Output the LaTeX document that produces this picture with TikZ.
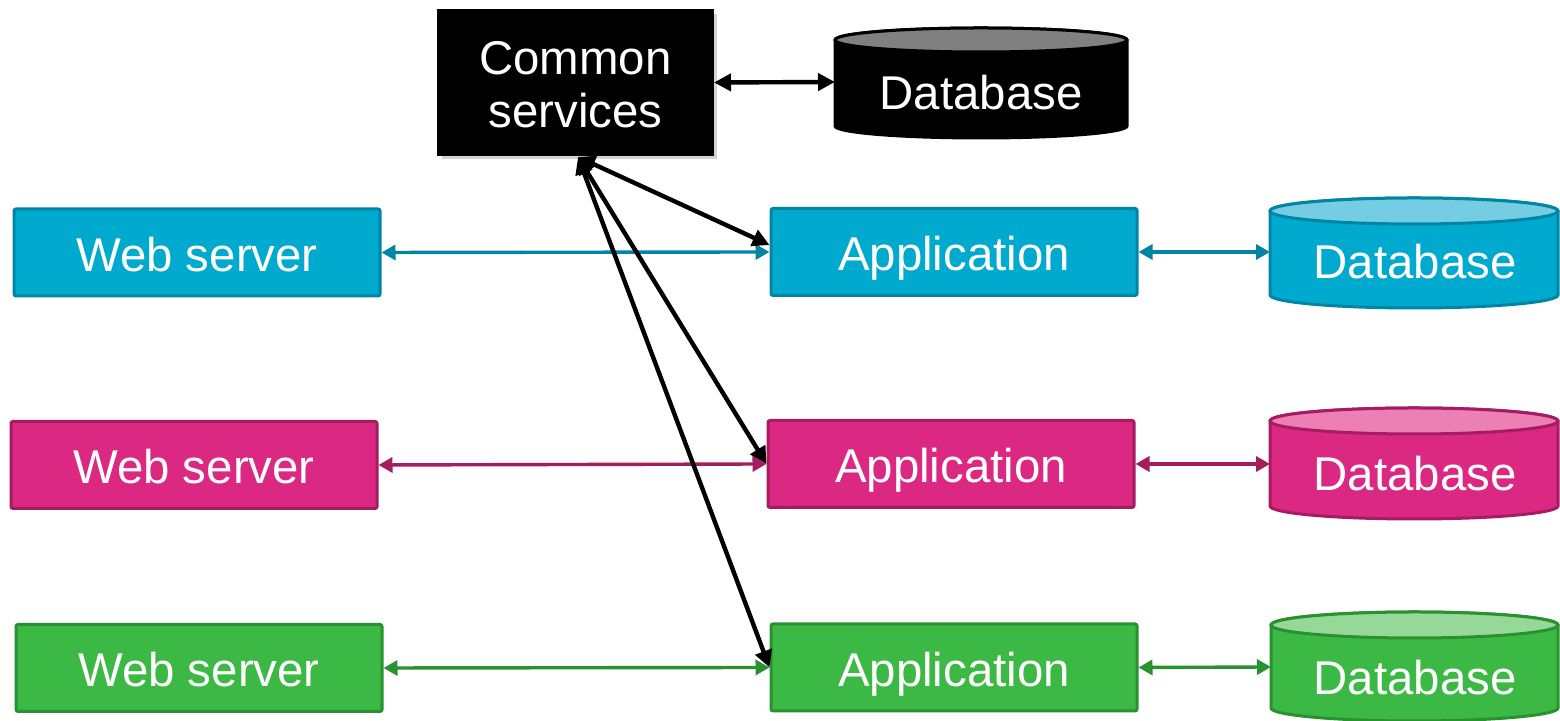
\documentclass[tikz,border=0pt]{standalone}
\usepackage{fontspec}
\setmainfont{Liberation Sans}
\usetikzlibrary{arrows.meta,shadows,calc}
\definecolor{cyanF}{HTML}{00A9CE}
\definecolor{cyanD}{HTML}{0085A5}
\definecolor{cyanT}{HTML}{74CDE3}
\definecolor{magF}{HTML}{DB2882}
\definecolor{magD}{HTML}{A61C60}
\definecolor{magT}{HTML}{EC80B5}
\definecolor{grnF}{HTML}{3CB944}
\definecolor{grnD}{HTML}{2A9130}
\definecolor{grnT}{HTML}{96D898}
\definecolor{dbGray}{HTML}{808080}
\newcommand\myfont{\fontsize{23.7}{27}\selectfont}
% #1 L, #2 R, #3 top ellipse Y, #4 bottom ellipse Y, #5 x radius, #6 y radius, #7 fill, #8 border, #9 top fill
\newcommand\dbcyl[9]{%
  \filldraw[fill=#7, draw=#8, line width=1.5pt] (#1,#3) -- (#1,#4)
     arc[start angle=180, end angle=360, x radius=#5, y radius=#6] -- (#2,#3)
     arc[start angle=0, end angle=180, x radius=#5, y radius=#6] -- cycle;
  \filldraw[fill=#9, draw=#8, line width=1.5pt] ({(#1+#2)/2},#3) ellipse[x radius=#5, y radius=#6];
}
\tikzset{
  box/.style={draw, line width=1.5pt, rounded corners=1pt, minimum width=183pt,
     minimum height=43.5pt, inner sep=0pt, text=white, font=\myfont,
     text height=17pt, text depth=0pt},
  dbtext/.style={inner sep=0pt, text=white, font=\myfont},
  lnk/.style={{Triangle[length=7pt,width=7.5pt]}-{Triangle[length=7pt,width=7.5pt]}, line width=1.7pt},
  blk/.style={{Triangle[length=8.5pt,width=8.5pt]}-{Triangle[length=8.5pt,width=8.5pt]}, line width=2.2pt, black}
}
\begin{document}
\begin{tikzpicture}[x=0.5pt,y=0.5pt]
\useasboundingbox (0,0) rectangle (1560,721);

% common services
\node[draw=black, fill=black, line width=1pt, minimum width=137.5pt, minimum height=72.5pt,
  inner sep=0pt, text=white, font=\myfont,
  drop shadow={opacity=0.35, shadow xshift=2pt, shadow yshift=-2pt}]
  (cs) at (575.5,638.5) {\raisebox{-4pt}[\height][\depth]{\begin{tabular}{@{}c@{}}Common\\[-0.5pt]services\end{tabular}}};
\coordinate (csb) at (578,564);

% top database
\dbcyl{835}{1127}{681}{595}{73pt}{6pt}{black}{black}{dbGray}
\node[dbtext] (db0) at (981,628) {Database};
\coordinate (db0w) at (835,639);

% row 1
\node[box, fill=cyanF, draw=cyanD] (web1) at (197,468.5) {\raisebox{-1pt}{Web server}};
\node[box, fill=cyanF, draw=cyanD] (app1) at (954,469) {\raisebox{-1pt}{Application}};
\dbcyl{1270}{1558}{510}{426}{72pt}{6.5pt}{cyanF}{cyanD}{cyanT}
\node[dbtext] (db1) at (1415,459) {Database};
\coordinate (db1w) at (1270,469);

% row 2
\node[box, fill=magF, draw=magD] (web2) at (194,256) {\raisebox{-1pt}{Web server}};
\node[box, fill=magF, draw=magD] (app2) at (951,257) {\raisebox{-1pt}{Application}};
\dbcyl{1270}{1558}{300}{215}{72pt}{6.5pt}{magF}{magD}{magT}
\node[dbtext] (db2) at (1415,247) {Database};
\coordinate (db2w) at (1270,257);

% row 3
\node[box, fill=grnF, draw=grnD] (web3) at (199,53) {\raisebox{-1pt}{Web server}};
\node[box, fill=grnF, draw=grnD] (app3) at (954,53.5) {\raisebox{-1pt}{Application}};
\dbcyl{1271}{1558}{96}{13}{71.75pt}{6.5pt}{grnF}{grnD}{grnT}
\node[dbtext] (db3) at (1415,43) {Database};
\coordinate (db3w) at (1271,54);

% connectors
\draw[lnk, cyanD] (web1.east) -- (app1.west);
\draw[lnk, cyanD] (app1.east) -- (db1w);
\draw[lnk, magD] (web2.east) -- (app2.west);
\draw[lnk, magD] (app2.east) -- (db2w);
\draw[lnk, grnD] (web3.east) -- (app3.west);
\draw[lnk, grnD] (app3.east) -- (db3w);

\draw[blk] (cs.east) -- (db0w);
\draw[blk] (csb) -- ($(app1.west)+(0,7)$);
\draw[blk] (csb) -- (app2.west);
\draw[blk] (csb) -- (app3.west);
\end{tikzpicture}
\end{document}
